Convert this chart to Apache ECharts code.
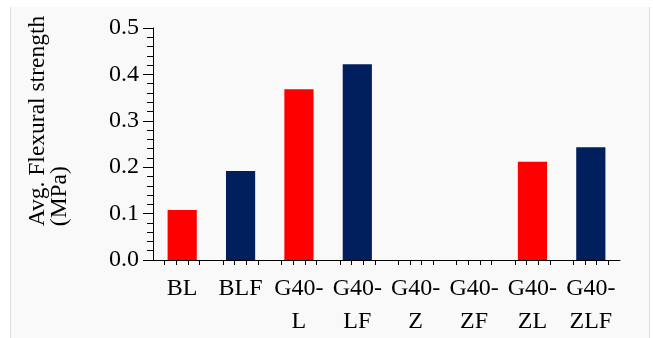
<!DOCTYPE html>
<html>
<head>
<meta charset="utf-8">
<script src="https://cdn.jsdelivr.net/npm/echarts@6/dist/echarts.min.js"></script>
<style>
    html, body { margin: 0; padding: 0; background: #ffffff; }
    #panel {
        position: absolute; left: 10px; top: 7px; width: 638px; height: 331px;
        background: #f9f9f9; border-left: 1px solid #dddddd; border-right: 1px solid #dddddd;
    }
    #flex_chart { position: absolute; left: 0; top: 0; width: 653px; height: 338px; }
</style>
</head>
<body>
<div id="panel"></div>
<div id="flex_chart"></div>
<script>
var categories = ['BL', 'BLF', 'G40-\nL', 'G40-\nLF', 'G40-\nZ', 'G40-\nZF', 'G40-\nZL', 'G40-\nZLF'];
var flexural_strength = [0.108, 0.192, 0.368, 0.422, 0, 0, 0.212, 0.243];
var y_ticks = [0, 0.1, 0.2, 0.3, 0.4, 0.5];

var font = '"Liberation Serif", "Times New Roman", serif';
var colors = ['#ff0000', '#001f5c'];

var option = {
    animation: false,
    grid: {
        left: 153,
        right: 33,
        top: 28,
        bottom: 77
    },
    xAxis: [
        {
            type: 'category',
            data: categories,
            axisLine: {lineStyle: {color: '#000', width: 1}},
            axisTick: {show: false},
            axisLabel: {
                color: '#000',
                fontFamily: font,
                fontSize: 24,
                lineHeight: 33,
                margin: 12,
                interval: 0
            }
        },
        {
            // only draws the small ticks under each bar
            type: 'value',
            position: 'bottom',
            min: 0,
            max: categories.length,
            interval: 1,
            axisLine: {show: false},
            axisTick: {show: false},
            axisLabel: {show: false},
            splitLine: {show: false},
            minorTick: {show: true, splitNumber: 5, length: 5, lineStyle: {color: '#000', width: 1}}
        }
    ],
    yAxis: {
        type: 'value',
        min: y_ticks[0],
        max: y_ticks[y_ticks.length - 1],
        interval: 0.1,
        name: '{a|Avg. Flexural strength}\n{a|(MPa)}',
        nameLocation: 'middle',
        nameRotate: 90,
        nameGap: 82,
        nameTextStyle: {
            color: '#000',
            fontFamily: font,
            fontSize: 23.5,
            lineHeight: 22,
            padding: [0, 0, 0, 46],
            rich: {
                a: {
                    align: 'left',
                    color: '#000',
                    fontFamily: font,
                    fontSize: 23.5,
                    lineHeight: 22
                }
            }
        },
        axisLine: {show: true, lineStyle: {color: '#000', width: 1}},
        axisTick: {show: true, length: 10, lineStyle: {color: '#000'}},
        minorTick: {show: true, splitNumber: 5, length: 6, lineStyle: {color: '#000'}},
        splitLine: {show: false},
        axisLabel: {
            color: '#000',
            fontFamily: font,
            fontSize: 24,
            margin: 14,
            formatter: function (v) {
                return v.toFixed(1);
            }
        }
    },
    series: [
        {
            type: 'bar',
            xAxisIndex: 0,
            data: flexural_strength,
            barWidth: '50%',
            itemStyle: {
                color: function (p) {
                    return colors[p.dataIndex % 2];
                }
            }
        }
    ]
};

var chart = echarts.init(document.getElementById('flex_chart'));
chart.setOption(option);
</script>
</body>
</html>
